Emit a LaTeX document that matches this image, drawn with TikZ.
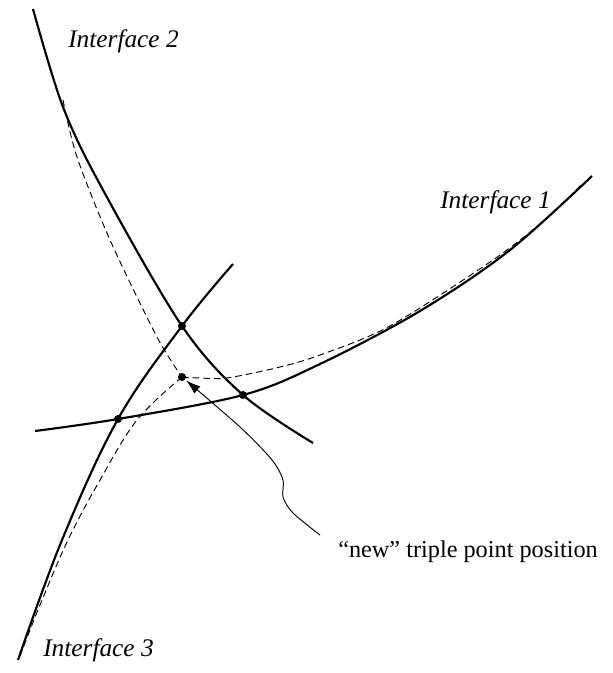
\documentclass[tikz,border=0pt]{standalone}
\usepackage{fontspec}
\setmainfont{Liberation Serif}
\usetikzlibrary{arrows.meta}

\tikzset{
  iface/.style={line width=1.6pt},
  moved/.style={line width=0.7pt, dash pattern=on 5pt off 3pt},
  pointer/.style={line width=0.7pt, -{Latex[length=11pt,width=7pt]}, shorten >=4pt},
  ilabel/.style={font=\fontsize{19}{22}\selectfont\itshape, inner sep=0pt, anchor=base west},
  plabel/.style={font=\fontsize{18.2}{22}\selectfont, inner sep=0pt, anchor=base west}
}

\begin{document}
\begin{tikzpicture}[x=0.75pt, y=-0.75pt]
    \useasboundingbox (0,0) rectangle (612,673);

    % triple points (old ones on the interfaces, new one where the dashed lines meet)
    \coordinate (tpA) at (182,326);
    \coordinate (tpB) at (243,395);
    \coordinate (tpC) at (118,419);
    \coordinate (tpN) at (182,377);
    \coordinate (tail) at (320,535);

    % interfaces
    \draw[iface] plot[smooth, tension=0.55] coordinates {(33,9) (63,107) (103,190) (tpA) (tpB) (313,443)};
    \draw[iface] plot[smooth, tension=0.55] coordinates {(35,431) (tpC) (tpB) (320,364) (420,311) (510,250) (592,176)};
    \draw[iface] plot[smooth, tension=0.6] coordinates {(233,264) (tpA) (tpC) (62,540) (18,660)};

    % relaxed interfaces through the new triple point
    \draw[moved] plot[smooth] coordinates {(63,100) (77,157) (110,240) (157,337) (tpN)};
    \draw[moved] plot[smooth] coordinates {(tpN) (200,378) (227,378) (280,367) (320,355) (390,326) (493,260) (547,218) (582,184)};
    \draw[moved] plot[smooth, tension=0.6] coordinates {(tpN) (137,420) (100,480) (68,540) (40,605) (20,656)};

    % dots
    \foreach \p in {tpA,tpB,tpC,tpN}
        \fill (\p) circle[radius=3pt];

    % labels
    \node[ilabel] (if2) at (68,48) {Interface 2};
    \node[ilabel] (if1) at (440,209) {Interface 1};
    \node[ilabel] (if3) at (43,656) {Interface 3};
    \node[plabel] (lbl) at (338,557) {“new” triple point position};

    % pointer to the new position
    \draw[pointer] plot[smooth] coordinates {(tail) (293,513) (283,497) (283,480) (272,460) (240,427) (tpN)};
\end{tikzpicture}
\end{document}
